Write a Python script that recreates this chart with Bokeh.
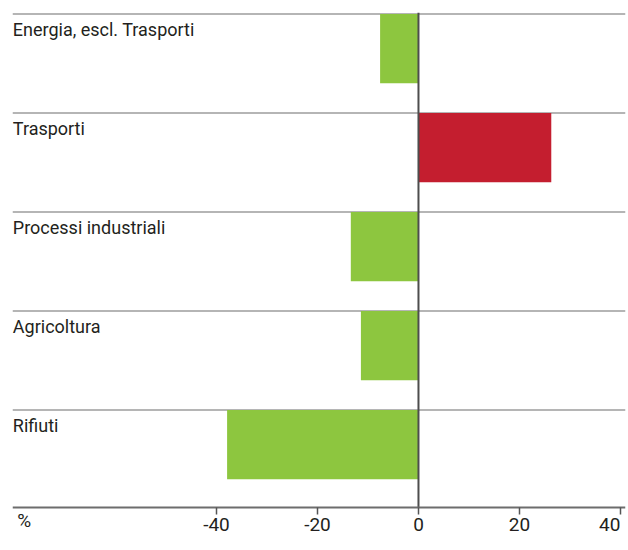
from bokeh.plotting import figure
from bokeh.models import Range1d, Span, FixedTicker
from bokeh.embed import file_html
from bokeh.resources import INLINE
from bokeh.core.properties import value

# ---- data ----
categories = ["Energia, escl. Trasporti", "Trasporti", "Processi industriali", "Agricoltura", "Rifiuti"]
changes = [-7.6, 26.3, -13.4, -11.4, -37.9]
tick_values = [-40, -20, 0, 20, 40]
tick_labels = ["-40", "-20", "0", "20", "40"]
unit_label = "%"

# ---- style ----
GREEN = "#8DC63F"
RED = "#C41E2F"
TEXT = "#231f20"
FONT = "Roboto"
FS = "18px"
FS_AXIS = "19px"

X_MIN, X_MAX = -80.4, 41.0
FRAME_W, FRAME_H = 613, 525
BAND_PX = 99.0
PX_X = FRAME_W / (X_MAX - X_MIN)
n = len(categories)
Y_MAX = n + 1.5 / BAND_PX            # first separator 1.5px below frame top
Y_MIN = Y_MAX - FRAME_H / BAND_PX
AXIS_Y = n - 493.3 / BAND_PX          # axis line position (data units)
TEXT_SHIFT = 8.0 / BAND_PX            # baseline correction

p = figure(frame_width=FRAME_W, frame_height=FRAME_H,
           x_range=Range1d(X_MIN, X_MAX), y_range=Range1d(Y_MIN, Y_MAX),
           output_backend="svg", toolbar_location=None, y_axis_location=None,
           min_border_left=12, min_border_right=3, min_border_top=12, min_border_bottom=0)

p.xgrid.visible = False
p.ygrid.visible = False
p.outline_line_color = None
p.background_fill_color = "white"
p.border_fill_color = "white"

tops = [n - i for i in range(n)]

# separators
for t in tops:
    p.add_layout(Span(location=t, dimension="width", line_color="#b5b5b5", line_width=2, level="underlay"))

# bars
lefts = [min(0, v) for v in changes]
rights = [max(0, v) for v in changes]
colors = [RED if v > 0 else GREEN for v in changes]
p.hbar(y=[t - 0.35 for t in tops], left=lefts, right=rights, height=0.7,
       fill_color=colors, line_color=None)

# zero line (from axis up to the top separator)
p.segment(x0=[0], y0=[AXIS_Y], x1=[0], y1=[Y_MAX], line_color="#4d4d4d", line_width=2)

# category labels
p.text(x=[X_MIN + 0.3 / PX_X] * n, y=[t - 23.5 / BAND_PX + TEXT_SHIFT for t in tops], text=categories,
       text_font=value(FONT), text_font_size=FS, text_color=TEXT,
       text_baseline="alphabetic", text_align="left")

# axis drawn at a fixed location inside the frame
ax = p.xaxis[0]
ax.fixed_location = AXIS_Y
ax.ticker = FixedTicker(ticks=tick_values)
ax.major_label_overrides = {v: "" for v in tick_values}
ax.major_label_text_font_size = "0px"
ax.major_label_text_color = None
ax.major_label_standoff = 0
ax.axis_line_color = "#6d6d6d"
ax.axis_line_width = 2
ax.major_tick_line_color = "#555555"
ax.major_tick_line_width = 1.5
ax.major_tick_out = 7
ax.major_tick_in = 0
ax.minor_tick_line_color = None

# tick labels (last one right-aligned to its tick, as in the original)
LABEL_Y = n - 518.8 / BAND_PX + TEXT_SHIFT
p.text(x=tick_values[:-1], y=[LABEL_Y] * (len(tick_values) - 1), text=tick_labels[:-1],
       text_font=value(FONT), text_font_size=FS_AXIS, text_color=TEXT,
       text_baseline="alphabetic", text_align="center")
p.text(x=tick_values[-1:], y=[LABEL_Y], text=tick_labels[-1:],
       text_font=value(FONT), text_font_size=FS_AXIS, text_color=TEXT,
       text_baseline="alphabetic", text_align="right")

# unit label
p.text(x=[X_MIN + 4.7 / PX_X], y=[n - 514.8 / BAND_PX + TEXT_SHIFT], text=[unit_label],
       text_font=value(FONT), text_font_size=FS_AXIS, text_color=TEXT,
       text_baseline="alphabetic", text_align="left")

open("out.html", "w").write(file_html(p, INLINE))
